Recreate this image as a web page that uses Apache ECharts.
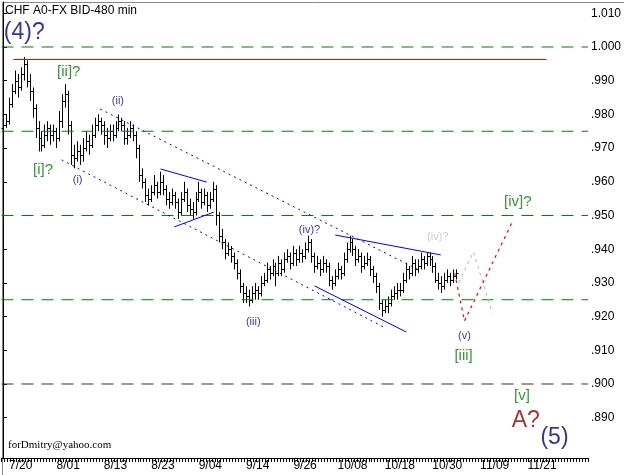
<!DOCTYPE html>
<html><head><meta charset="utf-8">
<script src="https://cdn.jsdelivr.net/npm/echarts@6/dist/echarts.min.js"></script>
<style>html,body{margin:0;padding:0;background:#fff}#c{width:624px;height:475px}</style>
</head><body><div id="c"></div>
<script>
const dateLabels=['7/20','8/01','8/13','8/23','9/04','9/14','9/26','10/08','10/18','10/30','11/09','11/21'];
const yTicks=[0.89,0.90,0.91,0.92,0.93,0.94,0.95,0.96,0.97,0.98,0.99,1.00,1.01];
// OHLC bars [open, high, low, close]
const bars=[
[.976,.979,.974,.977],[.977,.980,.976,.978],[.978,.985,.977,.983],[.983,.989,.982,.987],[.987,.993,.986,.990],
[.990,.992,.985,.988],[.988,.994,.987,.992],[.992,.997,.990,.995],[.995,.996,.988,.990],[.990,.992,.984,.987],
[.987,.988,.979,.982],[.982,.983,.973,.976],[.976,.978,.969,.973],[.973,.975,.969,.971],[.971,.977,.970,.974],
[.974,.978,.972,.976],[.976,.977,.971,.974],[.974,.977,.972,.975],[.975,.976,.970,.973],[.973,.981,.972,.978],
[.978,.986,.976,.984],[.984,.989,.982,.986],[.986,.987,.974,.977],[.977,.978,.965,.968],[.968,.971,.964,.967],
[.967,.972,.966,.969],[.969,.971,.965,.968],[.968,.973,.966,.970],[.970,.975,.969,.972],[.972,.974,.968,.971],
[.971,.977,.970,.974],[.974,.979,.973,.977],[.977,.980,.975,.978],[.978,.979,.974,.977],[.977,.978,.971,.974],
[.974,.976,.970,.973],[.973,.977,.972,.975],[.975,.977,.972,.974],[.974,.978,.973,.976],[.976,.980,.975,.978],
[.978,.979,.975,.977],[.977,.978,.971,.973],[.973,.976,.971,.974],[.974,.978,.973,.976],[.976,.977,.972,.974],
[.974,.975,.967,.970],[.970,.971,.960,.962],[.962,.964,.958,.960],[.960,.961,.954,.956],[.956,.958,.953,.955],
[.955,.959,.954,.957],[.957,.962,.956,.959],[.959,.960,.955,.957],[.957,.963,.956,.960],[.960,.962,.956,.958],
[.958,.959,.953,.955],[.955,.957,.952,.954],[.954,.958,.953,.956],[.956,.957,.952,.954],[.954,.955,.949,.951],
[.951,.957,.950,.955],[.955,.960,.954,.957],[.957,.958,.951,.953],[.953,.955,.950,.952],[.952,.954,.949,.951],
[.951,.957,.950,.955],[.955,.960,.954,.957],[.957,.958,.952,.954],[.954,.958,.953,.956],[.956,.957,.951,.953],
[.953,.957,.952,.955],[.955,.960,.954,.958],[.958,.959,.947,.950],[.950,.951,.942,.944],[.944,.946,.940,.942],
[.942,.943,.937,.939],[.939,.942,.938,.940],[.940,.941,.936,.938],[.938,.939,.934,.936],[.936,.937,.931,.933],
[.933,.934,.927,.929],[.929,.930,.924,.927],[.927,.929,.924,.926],[.926,.928,.923,.925],[.925,.929,.924,.927],
[.927,.930,.925,.928],[.928,.929,.925,.927],[.927,.932,.926,.930],[.930,.933,.929,.931],[.931,.936,.930,.934],
[.934,.935,.931,.933],[.933,.937,.932,.935],[.935,.936,.929,.933],[.933,.938,.932,.936],[.936,.937,.932,.934],
[.934,.939,.933,.937],[.937,.940,.936,.938],[.938,.939,.934,.936],[.936,.941,.935,.939],[.939,.940,.935,.937],
[.937,.941,.936,.939],[.939,.940,.936,.938],[.938,.942,.937,.940],[.940,.944,.939,.942],[.942,.943,.936,.938],
[.938,.939,.933,.935],[.935,.938,.934,.936],[.936,.937,.932,.934],[.934,.938,.933,.936],[.936,.937,.933,.935],
[.935,.936,.929,.931],[.931,.932,.928,.930],[.930,.934,.929,.932],[.932,.936,.931,.934],[.934,.935,.931,.933],
[.933,.939,.932,.937],[.937,.942,.936,.940],[.940,.944,.939,.942],[.942,.943,.938,.940],[.940,.941,.935,.937],
[.937,.940,.936,.938],[.938,.939,.933,.935],[.935,.938,.934,.936],[.936,.939,.935,.937],[.937,.938,.932,.934],
[.934,.935,.930,.932],[.932,.933,.927,.929],[.929,.930,.922,.924],[.924,.925,.920,.922],[.922,.925,.921,.923],
[.923,.926,.921,.924],[.924,.928,.923,.926],[.926,.929,.925,.927],[.927,.930,.925,.928],[.928,.930,.926,.928],
[.928,.933,.927,.931],[.931,.936,.930,.934],[.934,.935,.931,.933],[.933,.938,.932,.936],[.936,.937,.932,.934],
[.934,.937,.933,.935],[.935,.939,.934,.937],[.937,.938,.934,.936],[.936,.939,.935,.938],[.938,.939,.935,.937],
[.937,.938,.933,.935],[.935,.936,.930,.931],[.931,.933,.928,.930],[.930,.932,.927,.929],[.929,.933,.928,.931],
[.931,.934,.930,.932],[.932,.933,.929,.931],[.931,.934,.930,.932],[.932,.934,.931,.933]
];
const greenLevels=[1.000,0.975,0.950,0.925];
const blackLevel=0.900;
const redLevel=[[3.5,0.9963],[183.5,0.9963]];
const upperChannel=[[32.8,0.9816],[141.2,0.9335]];
const lowerChannel=[[19.8,0.9665],[128.5,0.9169]];
const triUpper=[[53.2,0.9638],[68.8,0.9599]];
const triLower=[[57.8,0.9466],[71.2,0.9510]];
const wedgeUpper=[[112.2,0.9442],[147.8,0.9383]];
const wedgeLower=[[105.2,0.9291],[136.2,0.9154]];
const redPath=[[152.5,0.9329],[155.8,0.9187],[171.8,0.9478]];
const grayPath=[[153.8,0.9300],[158.8,0.9392],[165.2,0.9211]];
const waveLabels=[
 [7.2,1.0042,'(4)?','#000080',23],
 [22.2,0.9926,'[ii]?','#008000',15],
 [13.5,0.9635,'[i]?','#008000',15],
 [25.2,0.9605,'(i)','#000080',11],
 [38.8,0.9840,'(ii)','#000080',11],
 [84.5,0.9184,'(iii)','#000080',11],
 [103.5,0.9457,'(iv)?','#000080',11],
 [146.8,0.9436,'(iv)?','#c0c0c0',11],
 [155.8,0.9142,'(v)','#000080',11],
 [155.5,0.9083,'[iii]','#008000',15],
 [173.8,0.9540,'[iv]?','#008000',15],
 [175.2,0.8964,'[v]','#008000',15],
 [176.5,0.8890,'A?','#8b0000',23],
 [186.2,0.8840,'(5)','#000080',23]
];
const N=198;
const cats=[];for(let i=0;i<N;i++){const k=(i-6)/16;cats.push(i>=6&&Number.isInteger(k)&&k<dateLabels.length?dateLabels[k]:'');}

function ln(data,color,type,width){return {type:'line',xAxisIndex:1,data:data,symbol:'none',silent:true,animation:false,
 color:color,itemStyle:{color:color},lineStyle:{color:color,type:type,width:width}};}
const dashed=[12,8],dotted=[2,4];
const series=[];
greenLevels.forEach(v=>series.push(ln([[-0.5,v],[197.5,v]],'#008000',dashed,1)));
series.push(ln([[-0.5,blackLevel],[197.5,blackLevel]],'#333333',dashed,1));
series.push(ln(redLevel,'#e00000','solid',1));
series.push(ln(upperChannel,'#0000ff',dotted,1));
series.push(ln(lowerChannel,'#0000ff',dotted,1));
[triUpper,triLower,wedgeUpper,wedgeLower].forEach(d=>series.push(ln(d,'#0000ff','solid',1)));
series.push(ln(redPath,'#ff0000',[3,4],1.2));
series.push(ln(grayPath,'#c0c0c0',[3,4],1.2));
series.push({type:'custom',xAxisIndex:1,animation:false,silent:true,
 data:bars.map((b,i)=>[i,b[0],b[1],b[2],b[3]]),
 encode:{x:0,y:[1,2,3,4]},
 renderItem:function(p,api){
  const x=api.value(0);
  const pO=api.coord([x,api.value(1)]),pH=api.coord([x,api.value(2)]),pL=api.coord([x,api.value(3)]),pC=api.coord([x,api.value(4)]);
  const cx=Math.round(pH[0])+0.5;
  const st={stroke:'#000',lineWidth:1};
  return {type:'group',children:[
   {type:'line',shape:{x1:cx,y1:pH[1],x2:cx,y2:pL[1]},style:st},
   {type:'line',shape:{x1:cx-2,y1:Math.round(pO[1])+0.5,x2:cx,y2:Math.round(pO[1])+0.5},style:st},
   {type:'line',shape:{x1:cx,y1:Math.round(pC[1])+0.5,x2:cx+2,y2:Math.round(pC[1])+0.5},style:st}
  ]};
 }});
series.push({type:'scatter',xAxisIndex:1,symbolSize:0,silent:true,animation:false,
 data:waveLabels.map(w=>({value:[w[0],w[1]],label:{show:true,position:'inside',formatter:w[2],color:w[3],fontSize:w[4],fontFamily:'Liberation Sans, Arial'}}))});

const chart=echarts.init(document.getElementById('c'),null,{renderer:'canvas'});
chart.setOption({
 backgroundColor:'#fff',animation:false,
 grid:{left:0,right:30,top:2,bottom:17,show:false},
 graphic:[
  {type:'rect',left:0,top:0,shape:{width:623,height:474},style:{fill:'none',stroke:'#888',lineWidth:1},silent:true},
  {type:'text',left:5,top:5,style:{text:'CHF A0-FX BID-480 min',fill:'#000',font:'12px "Liberation Sans", Arial'}},
  {type:'text',left:8,top:440,style:{text:'forDmitry@yahoo.com',fill:'#000',font:'11px "Liberation Serif", "Times New Roman"'}}
 ],
 xAxis:[
  {type:'category',data:cats,boundaryGap:true,position:'bottom',
   axisLine:{show:true,lineStyle:{color:'#000'}},
   axisTick:{show:true,interval:0,length:4,inside:false,lineStyle:{color:'#000'}},
   axisLabel:{interval:0,color:'#000',fontSize:12,margin:2,fontFamily:'Liberation Sans, Arial'},splitLine:{show:false}},
  {type:'value',min:-0.5,max:197.5,show:false,splitLine:{show:false}}
 ],
 yAxis:{type:'value',position:'right',min:0.87804,max:1.01335,
  axisLine:{show:true,lineStyle:{color:'#000'}},
  axisTick:{show:true,length:4,customValues:yTicks,lineStyle:{color:'#000'}},
  axisLabel:{customValues:yTicks,color:'#000',fontSize:12,margin:3,fontFamily:'Liberation Sans, Arial',
   formatter:v=>{const s=v.toFixed(3);return v>=1?s:s.slice(1);}},
  splitLine:{show:false}},
 series:series
});
</script></body></html>
